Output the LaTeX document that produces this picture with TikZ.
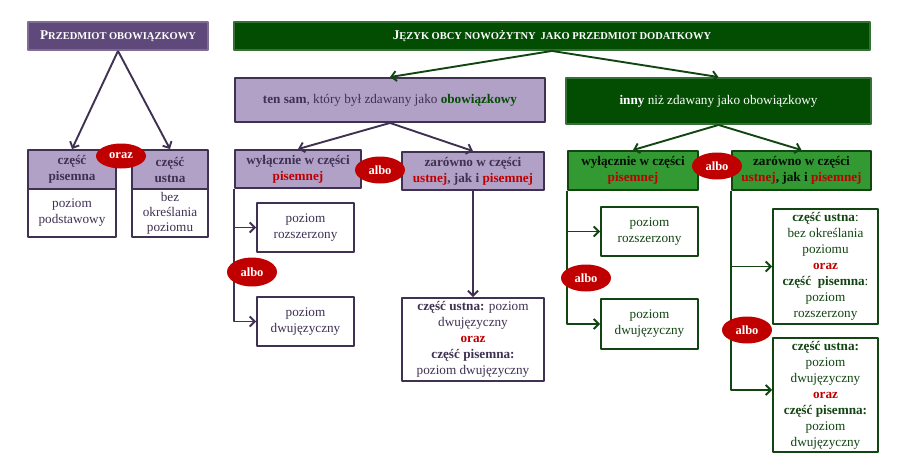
\documentclass[tikz,border=0pt]{standalone}
\usepackage{fontspec}
\setmainfont{Liberation Serif}
\usetikzlibrary{arrows.meta,shapes.geometric}
\newcommand{\Rule}{1.9pt}
\definecolor{plum}{HTML}{5F497A}
\definecolor{plumdark}{HTML}{3F3151}
\definecolor{lilac}{HTML}{B2A1C7}
\definecolor{pine}{HTML}{034D03}
\definecolor{pinedark}{HTML}{124512}
\definecolor{leaf}{HTML}{339933}
\definecolor{alert}{HTML}{C00000}
\newcommand{\Caps}[2]{{\fontsize{13.3}{15}\selectfont #1}{\fontsize{10.5}{12}\selectfont #2}}
\newcommand{\Red}[1]{\textcolor{alert}{\textbf{#1}}}

\tikzset{
  base/.style={align=center, inner sep=1pt, line width=\Rule,
    font=\fontsize{13.2}{16}\selectfont},
  wh/.style 2 args={minimum width=#1pt, minimum height=#2pt},
  headp/.style={base, fill=plum, draw=plum!80, text=white, font=\bfseries},
  headg/.style={base, fill=pine, draw=pine!80, text=white, font=\bfseries},
  lilacbox/.style={base, fill=lilac, draw=plumdark, text=plumdark},
  plumbox/.style={base, fill=white, draw=plumdark, text=plumdark},
  leafbox/.style={base, fill=leaf, draw=pinedark, text=black!80!pine},
  pinebox/.style={base, fill=white, draw=pinedark, text=pinedark},
  alt/.style={ellipse, fill=alert, text=white, inner sep=0pt,
    font=\bfseries\fontsize{12.5}{14}\selectfont, minimum width=50pt, minimum height=27pt},
  plumarr/.style={draw=plumdark, line width=\Rule, -{Straight Barb[length=5pt,width=10pt]}},
  pinearr/.style={draw=pinedark, line width=\Rule, -{Straight Barb[length=5pt,width=10pt]}},
}

\begin{document}
\begin{tikzpicture}[x=1pt, y=-1pt, line join=round]
  \useasboundingbox (0,0) rectangle (903,461);

  % ---- compulsory subject, on the left ------------------------------------
  \node[headp, wh={180}{28}] (obow) at (118,36) {\Caps{P}{RZEDMIOT} \Caps{}{OBOWIĄZKOWY}};
  \node[plumbox, wh={88}{48}] (pisB) at (72,213) {poziom\\podstawowy};
  \node[lilacbox, wh={88}{39}, font=\bfseries\fontsize{13.2}{16}\selectfont] (pisT) at (72,169.5) {część\\pisemna};
  \node[plumbox, wh={76}{48}, font=\fontsize{13.2}{15}\selectfont] (ustB) at (170,213) {bez\\określania\\poziomu};
  \node[lilacbox, wh={76}{39}, font=\bfseries\fontsize{13.2}{16}\selectfont] (ustT) at (170,169.5) {część\\ustna};
  \draw[plumarr] (obow.south) -- (pisT.north);
  \draw[plumarr] (obow.south) -- (ustT.north);
  \node[alt, minimum height=25pt] (oraz) at (121,156) {oraz};

  % ---- additional subject, the long bar over both branches ----------------
  \node[headg, wh={636}{28}] (jezyk) at (552,36)
    {\Caps{J}{ĘZYK} \Caps{}{OBCY} \Caps{}{NOWOŻYTNY} \ \Caps{}{JAKO} \Caps{}{PRZEDMIOT} \Caps{}{DODATKOWY}};

  % ---- the same language (purple branch) ----------------------------------
  \node[lilacbox, wh={310}{44}] (same) at (390,100)
    {\textbf{ten sam}, który był zdawany jako \textbf{\textcolor{pine}{obowiązkowy}}};
  \node[lilacbox, wh={126}{38}] (wylP) at (298,169)
    {\textbf{wyłącznie w części}\\\Red{pisemnej}};
  \node[lilacbox, wh={142}{38}] (zarP) at (473,171)
    {\textbf{zarówno w części}\\\Red{ustnej}\textbf{, jak i }\Red{pisemnej}};
  \node[plumbox, wh={97}{49}] (rozP) at (305.5,227.5) {poziom\\rozszerzony};
  \node[plumbox, wh={97}{49}] (dwuP) at (305.5,321.5) {poziom\\dwujęzyczny};
  \node[plumbox, wh={142}{83}] (obaP) at (473,339.5)
    {\textbf{część ustna:} poziom\\dwujęzyczny\\\Red{oraz}\\\textbf{część pisemna:}\\poziom dwujęzyczny};
  \draw[pinearr] (jezyk.south) -- (same.north);
  \draw[plumarr] (same.south) -- (wylP.north);
  \draw[plumarr] (same.south) -- (zarP.north);
  \draw[plumarr] (wylP.south west) |- (rozP.west);
  \draw[plumarr] (wylP.south west) |- (dwuP.west);
  \draw[plumarr] (zarP.south) -- (obaP.north);
  \node[alt] (alboP1) at (380,170) {albo};
  \node[alt, minimum height=29pt] (alboP2) at (252,272) {albo};

  % ---- another language (green branch) ------------------------------------
  \node[headg, wh={305}{46}, font=\fontsize{13.2}{16}\selectfont] (other) at (718.5,101)
    {\textbf{inny} niż zdawany jako obowiązkowy};
  \node[leafbox, wh={130}{39}] (wylG) at (633,170.5)
    {\textbf{wyłącznie w części}\\\Red{pisemnej}};
  \node[leafbox, wh={139}{39}] (zarG) at (801.5,170.5)
    {\textbf{zarówno w części}\\\Red{ustnej}\textbf{, jak i }\Red{pisemnej}};
  \node[pinebox, wh={97}{49}] (rozG) at (649.5,231.5) {poziom\\rozszerzony};
  \node[pinebox, wh={97}{50}] (dwuG) at (649.5,324) {poziom\\dwujęzyczny};
  \node[pinebox, wh={105}{115}] (obaG1) at (825.5,266.5)
    {\textbf{część ustna}:\\bez określania\\poziomu\\\Red{oraz}\\\textbf{część\ \ pisemna}:\\poziom\\rozszerzony};
  \node[pinebox, wh={105}{114}] (obaG2) at (825.5,395)
    {\textbf{część ustna:}\\poziom\\dwujęzyczny\\\Red{oraz}\\\textbf{część pisemna:}\\poziom\\dwujęzyczny};
  \draw[pinearr] (jezyk.south) -- (other.north);
  \draw[pinearr] (other.south) -- (wylG.north);
  \draw[pinearr] (other.south) -- (zarG.north);
  \draw[pinearr] (wylG.south west) |- (rozG.west);
  \draw[pinearr] (wylG.south west) |- (dwuG.west);
  \draw[pinearr] (zarG.south west) |- (obaG1.west);
  \draw[pinearr] (zarG.south west) |- ([yshift=5pt]obaG2.west);
  \node[alt] (alboG1) at (717,166) {albo};
  \node[alt] (alboG2) at (586,278) {albo};
  \node[alt] (alboG3) at (747,330) {albo};

\end{tikzpicture}
\end{document}
